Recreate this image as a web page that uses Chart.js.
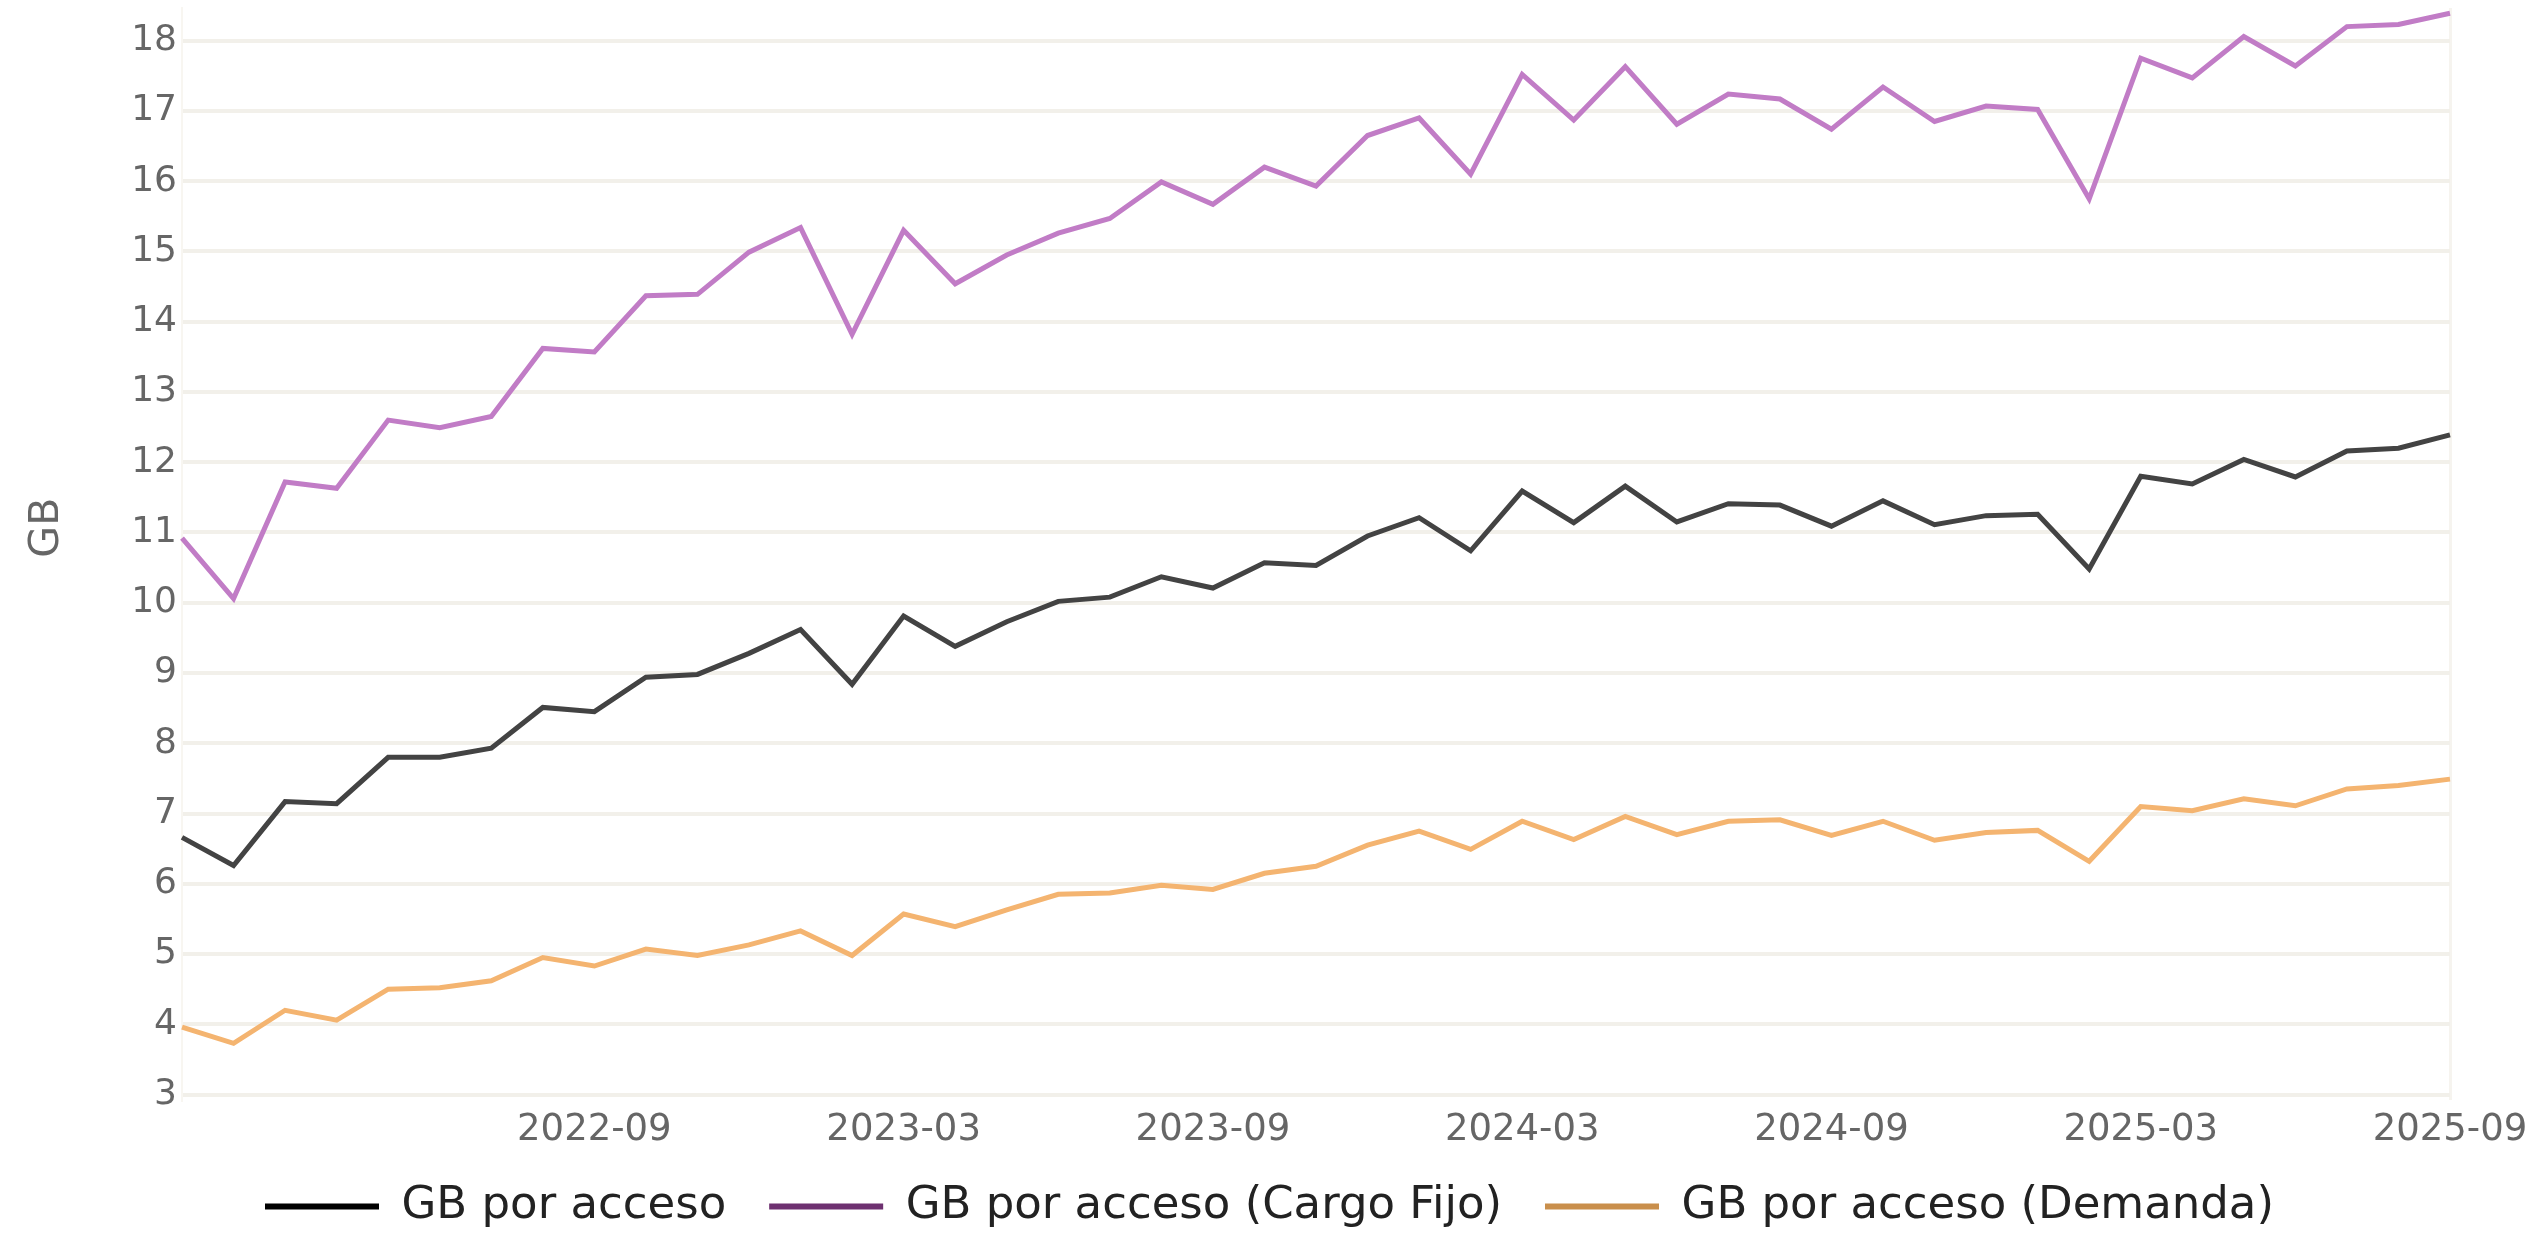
<!DOCTYPE html>
<html>
<head>
<meta charset="utf-8">
<script src="https://cdn.jsdelivr.net/npm/chart.js@4"></script>
<style>
html,body{margin:0;padding:0;background:#ffffff;}
#wrap{width:2539px;height:1234px;position:relative;}
</style>
</head>
<body>
<div id="wrap"><canvas id="c"></canvas></div>
<script>
const months = [
  '2022-01','2022-02','2022-03','2022-04','2022-05','2022-06','2022-07','2022-08','2022-09','2022-10','2022-11','2022-12',
  '2023-01','2023-02','2023-03','2023-04','2023-05','2023-06','2023-07','2023-08','2023-09','2023-10','2023-11','2023-12',
  '2024-01','2024-02','2024-03','2024-04','2024-05','2024-06','2024-07','2024-08','2024-09','2024-10','2024-11','2024-12',
  '2025-01','2025-02','2025-03','2025-04','2025-05','2025-06','2025-07','2025-08','2025-09'
];
const gbPorAcceso = [
  6.66, 6.26, 7.17, 7.14, 7.80, 7.80, 7.93, 8.51, 8.45, 8.94, 8.98, 9.28,
  9.62, 8.84, 9.81, 9.38, 9.73, 10.02, 10.08, 10.37, 10.21, 10.57, 10.53, 10.95,
  11.21, 10.74, 11.59, 11.14, 11.66, 11.15, 11.41, 11.39, 11.09, 11.45, 11.11, 11.24,
  11.26, 10.48, 11.80, 11.69, 12.04, 11.79, 12.16, 12.20, 12.39
];
const gbCargoFijo = [
  10.92, 10.06, 11.72, 11.63, 12.60, 12.49, 12.65, 13.62, 13.57, 14.37, 14.39, 14.99,
  15.34, 13.82, 15.30, 14.54, 14.95, 15.26, 15.47, 15.99, 15.67, 16.20, 15.93, 16.65,
  16.90, 16.10, 17.52, 16.87, 17.63, 16.81, 17.24, 17.17, 16.74, 17.34, 16.85, 17.07,
  17.02, 15.75, 17.75, 17.47, 18.06, 17.64, 18.20, 18.23, 18.39
];
const gbDemanda = [
  3.96, 3.73, 4.20, 4.06, 4.50, 4.52, 4.62, 4.95, 4.83, 5.07, 4.98, 5.13,
  5.33, 4.98, 5.57, 5.39, 5.63, 5.85, 5.87, 5.98, 5.92, 6.15, 6.25, 6.55,
  6.75, 6.49, 6.89, 6.63, 6.96, 6.70, 6.89, 6.91, 6.69, 6.89, 6.62, 6.73,
  6.76, 6.32, 7.10, 7.04, 7.21, 7.11, 7.35, 7.40, 7.49
];
const xTickLabels = ['2022-09','2023-03','2023-09','2024-03','2024-09','2025-03','2025-09'];
const yTickValues = [3,4,5,6,7,8,9,10,11,12,13,14,15,16,17,18];
const seriesNames = ['GB por acceso','GB por acceso (Cargo Fijo)','GB por acceso (Demanda)'];
const yTitle = 'GB';

const lineColors = ['#434343','#c17cc6','#f4b470'];
const legendColors = ['#000000','#6e3170','#c98f4c'];

new Chart(document.getElementById('c'), {
  type: 'line',
  data: {
    labels: months,
    datasets: [
      {label: seriesNames[0], data: gbPorAcceso, borderColor: lineColors[0], backgroundColor: lineColors[0]},
      {label: seriesNames[1], data: gbCargoFijo, borderColor: lineColors[1], backgroundColor: lineColors[1]},
      {label: seriesNames[2], data: gbDemanda, borderColor: lineColors[2], backgroundColor: lineColors[2]}
    ]
  },
  options: {
    responsive: true,
    maintainAspectRatio: false,
    animation: false,
    layout: {padding: {left: 0, right: 0, top: 8, bottom: -5}},
    elements: {
      point: {radius: 0, hoverRadius: 0},
      line: {tension: 0, borderWidth: 5, fill: false}
    },
    plugins: {
      tooltip: {enabled: false},
      legend: {
        position: 'bottom',
        labels: {
          font: {family: 'DejaVu Sans', size: 45},
          color: '#222222',
          boxWidth: 114,
          boxHeight: 6,
          padding: 43,
          generateLabels: chart => chart.data.datasets.map((d, i) => ({
            text: d.label,
            fillStyle: legendColors[i],
            strokeStyle: legendColors[i],
            lineWidth: 0,
            hidden: false,
            datasetIndex: i,
            fontColor: '#222222'
          }))
        }
      }
    },
    scales: {
      x: {
        type: 'category',
        offset: false,
        afterFit: ax => { ax.paddingLeft = 0; ax.paddingRight = 89; ax.height = 41.5; },
        grid: {
          drawTicks: false,
          lineWidth: 3,
          color: c => (c.index === months.length - 1 ? '#f6f4ef' : 'rgba(0,0,0,0)')
        },
        border: {display: false},
        ticks: {
          autoSkip: false,
          maxRotation: 0,
          minRotation: 0,
          padding: 9,
          font: {family: 'DejaVu Sans', size: 37},
          color: '#666666',
          callback: (v, i) => (xTickLabels.includes(months[i]) ? months[i] : '')
        }
      },
      y: {
        min: 2.93,
        max: 18.465,
        afterBuildTicks: ax => { ax.ticks = yTickValues.map(v => ({value: v})); },
        afterFit: ax => { ax.width = 182; ax.paddingTop = 0; ax.paddingBottom = 0; },
        grid: {drawTicks: false, color: '#f2f0ea', lineWidth: 4},
        border: {display: true, color: '#f8f6f1', width: 2},
        ticks: {padding: 5, font: {family: 'DejaVu Sans', size: 36}, color: '#666666'},
        title: {
          display: true,
          text: '    ' + yTitle,
          font: {family: 'DejaVu Sans', size: 41},
          color: '#666666',
          padding: {top: 23, bottom: 20}
        }
      }
    }
  }
});
</script>
</body>
</html>
